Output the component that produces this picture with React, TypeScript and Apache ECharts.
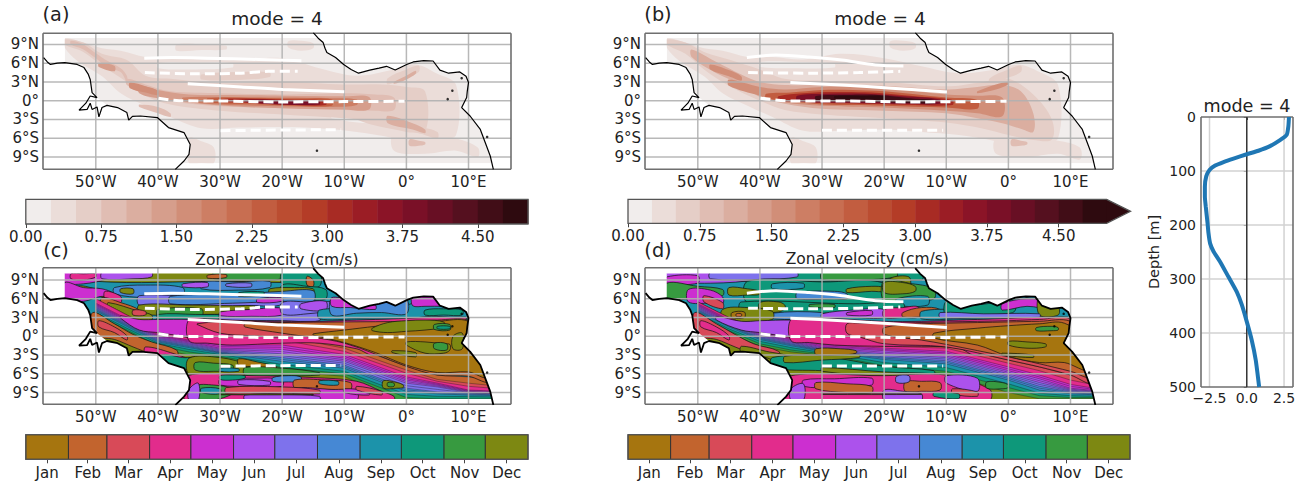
import React, { useEffect, useRef } from "react";
import * as echarts from "echarts";

const FONT = "DejaVu Sans";
const lonTicks = [-50, -40, -30, -20, -10, 0, 10];
const latTicks = [-9, -6, -3, 0, 3, 6, 9];
const ampTicks = [0, 0.75, 1.5, 2.25, 3, 3.75, 4.5];
const ampLevels = ["#f1edec","#ebddd9","#e5cec7","#e0bdb3","#dbaea0","#d69e8c","#d18e78","#cd7e64","#c86e51","#c25d40","#bb4d31","#b43c27","#a82b24","#9b1d25","#8b1427","#7a1027","#680f24","#55101f","#410d17","#2e0a0f"];
const months = ["Jan","Feb","Mar","Apr","May","Jun","Jul","Aug","Sep","Oct","Nov","Dec"];
const monthDays = [31,28,31,30,31,30,31,31,30,31,30,31];
const monthColors = ["#a6750f","#c2642e","#d84a58","#e22c8c","#cc2fd0","#ac52ec","#7e72ec","#4688d4","#1c93aa","#0e987a","#379a40","#7d8812"];

const coastAmerica = [[-58.4,6.9],[-57.8,6.2],[-57.3,5.8],[-56.2,6],[-55,6.1],[-53,5.8],[-51.9,5.3],[-51.2,4.2],[-50.9,3.4],[-50.6,1.3],[-49.8,0.5],[-50.9,0.75],[-51.6,-0.4],[-52.7,-1.5],[-51.4,-1.4],[-50.9,-0.4],[-50.6,-1.4],[-49.8,-1],[-49.5,-2.6],[-49,-1.1],[-48.2,-0.75],[-46.5,-1.1],[-45,-1.9],[-44.7,-3.1],[-44.1,-2.5],[-42.8,-2.45],[-40.1,-2.7],[-38.3,-4.3],[-35.8,-5.1],[-34.8,-7],[-35,-8.6],[-35.8,-9.65],[-37.2,-11]];
const coastAfrica = [[-15,10.9],[-14.2,10],[-13.4,9.3],[-13.1,8.4],[-12.8,7.7],[-11.4,6.9],[-10.1,5.8],[-8.9,5],[-7.7,4.4],[-5.9,4.9],[-4.4,5.2],[-3.2,5.5],[-1.8,4.9],[0.05,5.8],[1.1,6.2],[2.8,6.4],[4.3,6.35],[5.4,4.9],[6.8,4.4],[8.6,4.6],[9.6,3.9],[10,2.9],[9.8,1.5],[9.7,0.5],[8.9,-1.1],[10.25,-2.45],[11.9,-4.6],[12.9,-7.25],[13.5,-8.85],[14,-11]];
const islands = [[6.65,0.25],[7.4,1.6],[8.9,3.6],[-14.4,-8],[13,-5.8]];
const landAmericaExtra = [[-62,-12],[-62,6.9]];
const landAfricaExtra = [[20,-12],[20,12]];
const amazonMouth = [[-54,1.2],[-49.8,0.5],[-48.2,-0.75],[-49.3,-3.2],[-54,-3.2]];
const stripNorth = [[-62,10.05],[20,10.05],[20,12],[-62,12]];
const stripSouth = [[-62,-10.02],[20,-10.02],[20,-12],[-62,-12]];
const stripWest = [[-62,-12],[-55,-12],[-55,12],[-62,12]];
const domainBox = [[-55,-10],[14,-10],[14,10.05],[-55,10.05]];

// white lines: longitude, latitude
const solidNorthA = [[-42.2,6.8],[-37.7,6.9],[-32.1,6.8],[-23.8,6.6],[-16.9,6.4]];
const dashNorthA = [[-42.1,4.5],[-34.3,4.3],[-26.6,4.4],[-22.2,4.7],[-17.5,4.7]];
const solidMidA = [[-35.2,2.7],[-26.6,2.2],[-19.9,1.8],[-10,1.45]];
const dashEqA = [[-39.9,0.4],[-36.6,0],[-29.9,-0.05],[-21,-0.2],[-10,-0.15],[-0.3,-0.1]];
const dashSouthA = [[-29.9,-4.8],[-21,-4.7],[-10.5,-4.65]];
const solidNorthB = [[-42.1,6.9],[-37.4,7.3],[-32.1,7],[-26.8,6.5],[-21.4,5.7],[-16.9,5.55]];
const dashNorthB = [[-41.9,4.5],[-32.1,4.4],[-24.1,4.5],[-17.4,4.7]];
const solidMidB = [[-35.1,2.9],[-26.8,2.5],[-18.8,2],[-9.9,1.4]];
const dashEqB = [[-39.9,0.4],[-34.9,-0.05],[-26.8,-0.05],[-16.1,-0.2],[-0.3,-0.1]];
const dashSouthB = [[-30,-4.75],[-10.5,-4.75]];

// [level, [lon, south lat, north lat] ...]
const ampA: any[] = [
 [1,[-55,8.5,9.9],[-53,6.4,9.6],[-49,3.9,8.4],[-46,1.2,8],[-42,-0.8,7],[-38,-2.6,7],[-33,-4.4,6.6],[-27,-4.3,6.5],[-20,-4.2,6.8],[-14,-4.4,5.2],[-8,-5,4],[-2,-6,5],[1.5,-7,5.8],[5,-6,4.3],[8,-5.5,2.5]],
 [1,[-35,-10,-6],[-33,-10,-6.5],[-31,-10,-7.5]],
 [1,[-2,-8,-5],[3,-8.5,-5],[8,-8,-6],[11.5,-9,-7.5]],
 [1,[-37,8,9],[-33,8.1,9],[-29,8.2,8.8]],
 [1,[-19,8.5,9.5],[-17,8,9.6],[-15,8.4,9.2]],
 [0,[-40,5.2,6],[-34,5,6.1],[-28,5.3,6]],
 [0,[-12,-2.8,-2.2],[-6,-3.6,-2.9]],
 [2,[-55,9,9.8],[-52,7.8,9.3],[-49,5.6,7.5],[-45,3,6.5],[-42,0.8,4],[-38,-0.6,3.5],[-30,-1.6,2.8],[-20,-2.2,3],[-10,-2.8,2.6],[-4,-3.4,2.6],[0,-4.6,2.2],[3,-5,1.5]],
 [2,[-3,2.6,3.6],[0,3.7,5],[2,4.6,5.6]],
 [2,[-8,-3,-1.5],[0,-5,-2.5],[2,-5.2,-4],[5,-6,-5]],
 [2,[-33,3.4,4.2],[-27,3.3,4.6],[-22,3.8,4.5]],
 [3,[-54,9,9.6],[-52,8.2,9],[-50,6.8,7.6],[-48,5.2,6.3],[-46,4.6,5.2],[-45,3,4]],
 [3,[-45,2.5,3.5],[-42,1,2.6],[-38,-0.1,1.5],[-30,-0.9,1.2],[-20,-1.2,1],[-10,-1.5,1.2],[-5,-1.6,1],[-2,-1.5,0.5]],
 [3,[-43,-1,-0.6],[-40,-2,-1],[-38,-2.6,-2]],
 [3,[0.5,-7.2,-6.2],[2,-7.2,-6.4],[3,-7,-6.6]],
 [4,[-3,-3.6,-2.4],[1,-4.6,-3.6],[3,-5.2,-4.6]],
 [4,[-2,2.7,3],[0,3.4,4],[1.5,4.3,4.8]],
 [5,[-49.5,5.4,6],[-47,4.7,5.6]],
 [5,[-43,1.2,2.4],[-40,0.4,1.7],[-35,-0.3,1],[-28,-0.9,0.9],[-20,-1.2,0.8],[-10,-1.4,0.7],[-6,-1.4,0.6]],
 [6,[-44.5,2,2.9],[-42,1.3,2.3],[-40,0.9,1.6]],
 [7,[-36,0,0.5],[-30,-0.6,0.6],[-20,-0.9,0.5],[-12,-1,0.4],[-8,-0.7,0.2]],
 [9,[-32,-0.3,0.4],[-25,-0.5,0.45],[-18,-0.8,0.35],[-12,-0.8,0.2]],
 [12,[-30,-0.15,0.25],[-24,-0.4,0.3],[-18,-0.7,0.15],[-13,-0.7,0]],
 [15,[-26,-0.2,0.15],[-20,-0.6,0.1],[-14,-0.6,-0.1]],
];
const ampB: any[] = [
 [1,[-55,8.5,9.9],[-53,6.4,9.6],[-49,3.9,8.4],[-46,1.2,8],[-42,-0.8,7],[-38,-2.6,7],[-33,-4.8,6.6],[-27,-4.8,7.5],[-20,-4.6,6.8],[-14,-5,5.5],[-8,-5.5,4.4],[-2,-6.5,5],[1.5,-7.5,5.8],[5,-7,4.6],[8,-6,2.5]],
 [1,[-35,-10,-6],[-33,-10,-6.5],[-31,-10,-7.5]],
 [1,[-2,-8.5,-6],[3,-9,-6],[8,-8.5,-6.4],[11.5,-9.4,-7.5]],
 [1,[-19,8.5,9.5],[-17,8,9.6],[-15,8.4,9.2]],
 [0,[-40,5.4,6.2],[-34,5.2,6.2],[-28,5.3,5.9]],
 [2,[-55,9,9.8],[-52,7.5,9.3],[-49,5,7.8],[-45,2.4,6.6],[-40,0,5],[-36,-1.5,3.5],[-30,-2.2,3.2],[-20,-2.8,3],[-10,-3.5,2.3],[-4,-4.5,3],[0,-5.5,3.5],[4,-6.3,1],[7,-6.2,-3]],
 [2,[-3,2.6,3.6],[0,3.7,5],[2,4.6,5.6]],
 [4,[-51,7,8.2],[-47,4.4,6.2],[-43,2.6,4.2],[-40,0.6,3],[-36,-0.5,2.5],[-30,-1.3,2.6],[-20,-1.6,2.4],[-10,-2,1.8],[-5,-2.8,2.2],[-1,-3.6,2.5],[2,-4.5,1.5],[4,-5,-2]],
 [3,[0.5,-7.2,-6.2],[2,-7.2,-6.4],[3,-7,-6.6]],
 [6,[-48,5,5.8],[-45,3.9,4.9],[-43,3.2,3.9]],
 [6,[-45,2.4,3.4],[-40,0.8,2.2],[-36,-0.3,1.8],[-30,-0.8,2.2],[-20,-1.1,2],[-10,-1.6,1],[-5,-2,0.8],[-1,-2.5,0.5]],
 [6,[-5,1.2,1.5],[-2,1.8,2.6],[0,2.6,3]],
 [9,[-39,0.4,1.1],[-35,-0.1,1.3],[-30,-0.6,1.7],[-25,-0.7,1.7],[-20,-0.8,1.5],[-10,-1.1,0.5],[-5,-1.3,0.1]],
 [12,[-37,0,0.7],[-33,-0.2,1.2],[-28,-0.4,1.4],[-22,-0.5,1.3],[-15,-0.7,0.7],[-9,-0.7,0.1]],
 [15,[-34,0,0.8],[-29,-0.3,1.1],[-23,-0.4,1.1],[-17,-0.5,0.7],[-11,-0.5,0.2]],
 [18,[-31,0.1,0.75],[-26,-0.15,0.9],[-21,-0.2,0.9],[-15,-0.4,0.3],[-12,-0.4,0.1]],
 [19,[-28,0.35,0.7],[-24,0.3,0.75],[-20,0.2,0.7]],
];

const stripeLons = [-50,-45,-40,-35,-30,-20,-10,0,5,10,15];
// [month, north edge latitude at each of stripeLons]
const stripesC: any[] = [
 [1,[6,3.4,0.9,-0.3,-0.5,0.5,-1.1,-4.8,-6.2,-6.5,-7]],
 [2,[6,3.4,0.9,-0.3,-0.5,0,-1.9,-5.4,-6.9,-7.5,-8]],
 [3,[6,3.4,0.9,-0.3,-0.5,-0.6,-2.4,-5.9,-7.2,-8,-8.4]],
 [4,[5.3,2.8,0.3,-0.6,-1.4,-1.4,-2.9,-6.5,-7.5,-8.6,-8.8]],
 [4,[5.15,2.65,0.15,-0.75,-1.65,-1.75,-3.2,-6.75,-7.65,-8.7,-8.9]],
 [5,[5,2.5,0,-0.9,-1.9,-2.1,-3.5,-7,-7.8,-8.8,-9]],
 [5,[4.85,2.35,-0.15,-1.05,-2.05,-2.45,-3.75,-7.25,-7.95,-8.9,-9.1]],
 [6,[4.7,2.2,-0.3,-1.2,-2.2,-2.8,-4,-7.5,-8.1,-9,-9.2]],
 [6,[4.55,2.05,-0.45,-1.35,-2.35,-3.1,-4.3,-7.9,-8.5,-9.05,-9.25]],
 [7,[4.4,1.9,-0.6,-1.5,-2.5,-3.4,-4.6,-8.3,-8.9,-9.1,-9.3]],
 [7,[4.25,1.75,-0.75,-1.65,-2.6,-3.7,-4.85,-8.55,-9.05,-9.25,-9.4]],
 [8,[4.1,1.6,-0.9,-1.8,-2.7,-4,-5.1,-8.8,-9.2,-9.4,-9.5]],
 [9,[3.8,1.3,-1.1,-2.1,-2.9,-4.5,-5.6,-9.3,-9.6,-9.65,-9.7]],
 [10,[3.5,1,-1.5,-2.5,-3.2,-5,-6,-9.8,-10,-10,-10]],
 [11,[3,0.6,-2,-3,-3.6,-5.6,-6.4,-11,-11,-11,-11]],
];
const stripesD: any[] = [
 [1,[5.5,3,1,0,-0.5,-0.9,-1,-3.3,-4.4,-5.6,-6.5]],
 [2,[5.5,3,1,0,-0.5,-1.2,-1.5,-3.8,-4.9,-6.2,-7.4]],
 [3,[5.5,3,1,0,-0.5,-1.6,-1.9,-4.3,-5.5,-7,-8]],
 [4,[5.2,2.7,0.7,-0.3,-1.3,-1.9,-2.4,-4.9,-6.2,-7.7,-8.5]],
 [4,[5.05,2.55,0.55,-0.45,-1.5,-2.1,-2.65,-5.2,-6.5,-8,-8.65]],
 [5,[4.9,2.4,0.4,-0.6,-1.7,-2.3,-2.9,-5.5,-6.8,-8.3,-8.8]],
 [5,[4.75,2.25,0.25,-0.75,-1.85,-2.55,-3.15,-5.75,-7.1,-8.45,-8.9]],
 [6,[4.6,2.1,0.1,-0.9,-2,-2.8,-3.4,-6,-7.4,-8.6,-9]],
 [6,[4.45,1.95,-0.05,-1.05,-2.1,-3.05,-3.65,-6.25,-7.7,-8.75,-9.1]],
 [7,[4.3,1.8,-0.2,-1.2,-2.2,-3.3,-3.9,-6.5,-8,-8.9,-9.2]],
 [7,[4.15,1.65,-0.35,-1.35,-2.3,-3.5,-4.15,-6.75,-8.3,-9.05,-9.3]],
 [8,[4,1.5,-0.5,-1.5,-2.4,-3.7,-4.4,-7,-8.6,-9.2,-9.4]],
 [9,[3.7,1.2,-0.8,-1.8,-2.6,-4.2,-5,-7.6,-9.1,-9.5,-9.6]],
 [10,[3.4,0.9,-1.2,-2.2,-2.8,-4.7,-5.6,-8.2,-9.5,-9.8,-9.8]],
 [11,[3,0.5,-1.6,-2.5,-3,-5.2,-6,-9,-10,-10,-10]],
];

// [month, [lon, south lat, north lat] ...], painted in order, before the stripes
const phaseNorthC: any[] = [
 [8,[-56,-10.5,10.2],[15,-10.5,10.2]],
 [11,[-50,8.8,10.2],[-30,8.8,10.2],[-14,8.8,10.2]],
 [10,[-31,9.2,10.2],[-25,9,10.2],[-20,9.2,10.2]],
 [4,[-55,8.6,10.2],[-52,8.4,10.2],[-48,9.3,10.2]],
 [3,[-54,9.2,10],[-52,9,10],[-50,9.5,10]],
 [5,[-49,9.2,10.2],[-44,9.2,10.2],[-41,9.5,10.2]],
 [9,[-20,8.4,10.2],[-17,8,10.2],[-14,8,10.2]],
 [1,[-16,8.2,9.6],[-15,8,9]],
 [1,[-32,9.3,9.8],[-29,9.4,9.9]],
 [7,[-47,6.8,7.8],[-42,6.2,8.2],[-36,6.5,7.8]],
 [7,[-33,7.6,8.7],[-27,7.4,8.7],[-22,7.8,8.8]],
 [5,[-36,7.9,8.4],[-32,7.9,8.6]],
 [6,[-29,8,8.4],[-25,7.9,8.5]],
 [11,[-53,6.2,8],[-50,6.4,7.6],[-47,6,6.8]],
 [11,[-46,7,7.6],[-44,6.8,7.6]],
 [9,[-20,5.8,8.2],[-16,5.8,8],[-13,6,7.5]],
 [11,[-22,6.8,7.6],[-18,6.6,7.8],[-15,6.8,7.6]],
 [6,[-43,5,6.5],[-33,4.7,6.3],[-25,4.9,6.4],[-20,5.1,6.9]],
 [7,[-38,5.2,6.4],[-28,5.3,6.7],[-20,5.6,7.2],[-15,5.6,7.3]],
 [4,[-24,5.4,6],[-20,5.6,6.2]],
 [9,[-27,6.4,7],[-23,6.6,7.1]],
 [11,[-43,3.6,5],[-35,3.5,5],[-28,3.6,4.9],[-24,4,4.8]],
 [10,[-40,3.2,4.3],[-33,3.2,4.4]],
 [9,[-40,2.6,3.5],[-34,2.4,3.5],[-28,2.6,3.3]],
 [6,[-30,2.6,3.5],[-25,2.5,4.3],[-20,2.5,4.5],[-14,2.5,4.1]],
 [4,[-30,3.3,3.9],[-25,3.2,4.3],[-20,3.4,4.5]],
 [6,[-20,3.6,5.4],[-16,3.6,5.5],[-11,4.4,5.4]],
 [5,[-17,4.4,5.2],[-13,4.2,5.6]],
 [8,[-14,2.8,4.2],[-8,2.8,4.4],[0,2.8,5],[4,3.2,6.4],[11,3,4.8]],
 [7,[-12,3.4,6],[-8,3.7,5.4],[-4,3.8,5.4],[0,3.6,5.9]],
 [4,[-12,4.8,6.2],[-9,4.6,5.8],[-5,4.3,5]],
 [4,[1,4.9,6.4],[3,4.8,6.4],[6,4.8,6.4],[9,4.5,4.8]],
 [9,[3,3.4,4.2],[6,3.4,4.4],[9,3.4,4.2]],
 [4,[-55,6,8.6],[-52,5.6,7.8],[-49,6.4,7.6],[-47,6,6.8]],
 [3,[-48.5,6,7.2],[-46,5.4,6.4]],
 [1,[-49,4.8,6.2],[-46,3.6,5.4],[-43,3.2,4.2]],
 [11,[-48,4.6,5.4],[-43,2.4,4],[-41,2.6,3.4]],
 [2,[-44,3.4,4.2],[-42,3.4,4]],
];
// painted after the stripes
const phaseSouthC: any[] = [
 [1,[-50.5,0.2,3.8],[-47,-0.5,2],[-44,-1.7,0.3],[-41,-2.8,-0.9],[-37,-3.5,-2.2]],
 [2,[-49.5,1.5,2.5],[-47,0.6,1.5],[-45,-0.6,0.1]],
 [3,[-42,-2.8,-1.7],[-38,-3.6,-2.6],[-34,-5.3,-4.2]],
 [9,[-39.5,-5,-3],[-36,-5.2,-3.4],[-33,-5.6,-3.6]],
 [11,[-35,-6,-3.5],[-30,-6,-3.4],[-25,-6,-4.5],[-21,-6,-5.2]],
 [10,[-34,-5.4,-4.2],[-31,-5.6,-4.3],[-28,-5.4,-4.6]],
 [0,[-27,-4.6,-3.6],[-24,-4.9,-4.1],[-21,-5.2,-4.8]],
 [10,[-26,-6.2,-5],[-20,-6.3,-5.1],[-14,-6.2,-5.8]],
 [8,[-30,-5.6,-5.1],[-27,-5.6,-5.2]],
 [3,[-35.5,-10.2,-6.4],[-25,-10.2,-6.3],[-15,-10.2,-6.6],[-8,-10.2,-7.2],[-4,-10.2,-8.8],[-2,-10.2,-9.6]],
 [4,[-30,-7.8,-6.9],[-25,-8,-6.7],[-20,-8,-6.9]],
 [5,[-27,-7.7,-7],[-22,-7.8,-7.2]],
 [7,[-21.5,-7.2,-6.6],[-19,-7.3,-6.3],[-17,-7.2,-6.5]],
 [9,[-30,-6.9,-6.3],[-28,-7,-6.2],[-26,-6.7,-6.3]],
 [10,[-34,-10.2,-8],[-31,-10.2,-7.8],[-28,-9.2,-8.4]],
 [8,[-33,-9,-8.3],[-30,-9.2,-8.4]],
 [1,[-18,-8.2,-7],[-13,-8.5,-7],[-9,-8.5,-7.4]],
 [8,[-14,-7.6,-7.1],[-11,-7.8,-7.2]],
 [4,[-18,-9.5,-8.3],[-12,-10.2,-8.5],[-8,-10.2,-8.7]],
 [4,[-10,-9,-8.4],[-6,-9.4,-8.8]],
 [2,[-8,-8.6,-8],[-4,-9.4,-8.8]],
 [11,[-3.7,-8.3,-7.1],[-1.5,-8.3,-7.4],[-0.5,-8.2,-7.8]],
 [10,[-3,-8,-7.4],[-2,-8,-7.5]],
 [2,[-29,-9.2,-8.2],[-20,-9.1,-8.1],[-14,-9.2,-8.6]],
 [5,[-35,-10.2,-8.5],[-33.5,-10.2,-7.5]],
 [5,[-26,-10.2,-9.4],[-20,-10.2,-9.3],[-14,-10.2,-9.6]],
 [11,[-30,-9.35,-9.25],[-15,-9.35,-9.25]],
 [4,[-46,2.9,3.3],[-43,1,2.7],[-40,0.6,2.7],[-35,-0.1,2.7],[-32,-0.2,2.5]],
 [3,[-35,-0.7,2.7],[-32,-1.1,2.8],[-28,-1.4,2.6],[-20,-1.1,2.4],[-14,-1.1,2.4],[-8,-2,2.6],[-5,-3,2.7],[9.5,2.6,3.1]],
 [2,[-33.7,1.9,2],[-30,0.5,2.4],[-25,0.1,2.4],[-20,-0.1,2.2],[-15,0.4,2],[-12,1.2,2]],
 [1,[-26,1.5,2],[-20,0.5,2.2],[-10,-1.1,2.3],[0,-4.8,2.4],[5,-6.2,2.6],[10,-6.4,2.6],[13.5,-7.2,0]],
 [0,[-15,0.2,0.4],[-10,-1,1],[-5,-2.6,1.6],[0,-4.6,2.1],[5,-5.8,2.4],[10,-5.7,2.4],[13,-6.5,-1]],
 [11,[-5.5,0.9,1.3],[-3,0.6,2.2],[0,0.8,2.5],[3,1,2.6],[6,1.5,2.3]],
 [11,[0,-1.4,-0.9],[3,-2.7,-0.9],[6,-2.7,-1.2],[7,-2.2,-1.3]],
 [10,[4.5,1.1,1.9],[7,1,1.9]],
 [10,[4.5,-2,-1.1],[6.5,-2.2,-1.2]],
 [11,[-2.3,-2.6,-2.3],[1.5,-3.3,-2.6]],
 [11,[7.5,-2,0],[9,-2,0.5]],
 [9,[5,1.2,1.6],[7,1.2,1.6]],
];
const phaseNorthD: any[] = [
 [8,[-56,-10.5,10.2],[15,-10.5,10.2]],
 [9,[-50,9,10.2],[-14,9,10.2]],
 [5,[-55,9,10.2],[-48,8.5,10.2],[-40,9.2,10.2]],
 [6,[-48,9.2,10.2],[-40,9.1,10.2],[-34,9.5,10.2]],
 [4,[-55,8.5,9.5],[-50,8.5,9.7]],
 [10,[-30,9.1,10.2],[-24,9,10.2],[-18,9.5,10.2]],
 [11,[-19,8,9.3],[-16,7.8,9.5]],
 [9,[-42,5.4,8.8],[-30,5.2,8.7],[-20,5.2,8.5]],
 [7,[-34,6,7],[-28,6,7.2],[-26,6,6.8]],
 [8,[-38,7.6,8.4],[-33,7.7,8.5]],
 [11,[-45,6.6,7.8],[-42,6.6,7.6],[-40,6.7,7.2]],
 [11,[-26,7,7.6],[-22,7.2,8],[-20,7.2,7.8]],
 [10,[-20,5.6,9],[-16,5.6,8.5],[-12,6,7.6]],
 [11,[-20,7,8.6],[-17,6.8,8.6],[-15,7.2,8]],
 [8,[-18,5,6],[-13,5,6.4]],
 [9,[-43,3.8,5.5],[-25,3.8,5.2],[-17,4,5.3]],
 [11,[-40,4,5.4],[-37,3.9,5.5],[-36,4.4,5]],
 [10,[-32,4.7,5.1],[-28,4.6,5.1]],
 [7,[-38,2.8,3.7],[-30,3,3.8]],
 [5,[-30,2.9,3.6],[-25,3,4.2],[-20,3,4.3]],
 [4,[-26,3.4,3.8],[-22,3.4,4.1]],
 [3,[-20,3,4.3],[-17,3,4.6],[-14.5,3.1,4.7]],
 [1,[-17,3.1,3.8],[-14,3.1,4.6],[-11,3,4.3]],
 [8,[-14,2.8,4],[-8,2.8,4.4],[0,2.8,5],[4,3.2,6.4],[11,3,4.8]],
 [9,[-10,3.2,5.6],[-6,3.4,5],[-1,3.6,5.6],[1,4,6]],
 [4,[-1,4.2,5.2],[3,4.8,6],[7,4.4,5.4]],
 [11,[5,3.4,6.4],[8,3.4,4.8]],
 [6,[-11,3,3.8],[-4,3,3.6],[5,3,3.6]],
 [10,[-55,6,8.5],[-50,6.2,8],[-46,6.5,7.5]],
 [4,[-51.5,5.5,7.5],[-48,5.3,7.4],[-46,5.2,6.3]],
 [2,[-49,5.5,6.5],[-46,4.4,5.4]],
 [11,[-46,2.2,4.3],[-42,2.3,4.6],[-38,2.7,4]],
 [0,[-44.5,3,3.8],[-42.5,3,3.9]],
 [1,[-43.8,3.2,3.6],[-43,3.2,3.6]],
];
const phaseSouthD: any[] = [
 [2,[-50.5,0.2,3.8],[-47,-0.5,2],[-44,-1.7,0.3],[-41,-2.8,-1.2],[-37,-3.5,-2.4]],
 [3,[-49.5,1.5,2.5],[-47,0.6,1.5],[-45,-0.6,0.1]],
 [11,[-43,-2.6,-1.6],[-39,-3.4,-2.4],[-35,-5,-3.4]],
 [9,[-38,-5,-3.4],[-30,-5.5,-3.2],[-20,-6,-4.8],[-12,-6.2,-5.5]],
 [11,[-36,-4.2,-3.2],[-30,-3.8,-3],[-24,-3.4,-2.9]],
 [11,[-30,-5.6,-5],[-20,-6.4,-5.7],[-12,-6.4,-6]],
 [0,[-31,-2.9,-2],[-27,-3,-2],[-24.5,-2.7,-2.3]],
 [3,[-36,-10.2,-6.5],[-20,-10.2,-6.3],[-10,-10.2,-6.2],[-3,-10.2,-8.5]],
 [5,[-10,-7.5,-6.3],[-5,-8.8,-6.7]],
 [4,[-33,-8,-7],[-28,-8.2,-6.8],[-22,-7.8,-6.7]],
 [1,[-16.6,-8.8,-7.3],[-14,-8.8,-7.2],[-11,-8.6,-7.4]],
 [6,[-18,-7.4,-6.4],[-16,-7.3,-6.3]],
 [5,[-20,-10.2,-8.6],[-17,-10.2,-8.8],[-14,-10.2,-9.2]],
 [1,[-31,-8.4,-7.4],[-26,-9,-7.6],[-22,-9,-8]],
 [2,[-9,-9.2,-8.4],[-5,-9.6,-8.9]],
 [10,[-3.5,-8.3,-7.3],[-1,-8.4,-7.4],[0,-8.2,-7.8]],
 [11,[-30,-9.3,-9.2],[-14,-9.3,-9.2]],
 [5,[-35,-10.2,-8.4],[-33,-10.2,-7.6]],
 [9,[-12,-9.6,-9],[-8,-10,-9.2]],
 [5,[-47,2.6,3.2],[-43,1,2.4],[-40,0.6,2.5],[-35,-0.1,2.6],[-32,-0.2,2.4]],
 [3,[-35,-0.7,2.7],[-32,-1,2.8],[-28,-1.4,2.8],[-20,-1.6,2.4],[-14,-1.6,2.4],[-8,-1.9,2.6],[-5,-3,2.7],[9.5,2.6,3.1]],
 [2,[-26,0.5,2],[-24,-0.1,2.1],[-20,-1.2,2.1],[-10,-1.7,2.3],[0,-3.8,2.5],[5,-4.9,2.7],[10,-6.2,2.8],[13.5,-7.4,-1]],
 [1,[-20,0.3,1.4],[-14,-0.6,2],[-10,-1.3,2.1],[0,-3.3,2.3],[5,-4.4,2.4],[10,-5.6,2.4],[13.5,-6.5,-1]],
 [0,[-12,-0.3,0.5],[-5,-1.4,1.3],[0,-3.2,1.7],[5,-4.2,2],[9,-4.2,2.1],[13,-5.4,-1]],
 [11,[0,-1.4,-0.8],[3,-1.9,-0.9],[6,-1.7,-1.2]],
 [10,[4.5,0.9,1.4],[7,0.9,1.6],[8,1,1.4]],
 [11,[-1,-3,-2.7],[4,-3.4,-3]],
];

const profileDepth = [0,17,33,43,54,62.5,69,77,83.5,90,98,110,129,147,166,197,215,234,249,268,296,324,348,379,413,450,500];
const profileValue = [2.83,2.79,2.68,2.23,1.56,0.78,0,-0.89,-1.56,-2.12,-2.5,-2.72,-2.81,-2.81,-2.75,-2.63,-2.57,-2.46,-2.23,-1.79,-1.23,-0.67,-0.33,0,0.33,0.6,0.83];

const ribbon = (rows: number[][]) => [
  ...rows.map((r) => [r[0], r[2]]),
  ...rows.slice().reverse().map((r) => [r[0], r[1]]),
];
const landShapes = () => [
  { pts: [...coastAmerica, ...landAmericaExtra], c: "#fff" },
  { pts: amazonMouth, c: "#fff" },
  { pts: [...coastAfrica, ...landAfricaExtra], c: "#fff" },
  { pts: stripNorth, c: "#fff" }, { pts: stripSouth, c: "#fff" }, { pts: stripWest, c: "#fff" },
];
const polyRender = (shapes: any[]) => (_: any, api: any) => {
  const s = shapes[api.value(0)];
  return {
    type: "polygon",
    shape: { points: s.pts.map((q: number[]) => api.coord(q)), smooth: s.smooth || 0 },
    style: { fill: s.c, stroke: s.stroke || "none", lineWidth: s.lw || 0 },
  };
};
const polySeries = (i: number, shapes: any[]) => ({
  type: "custom", xAxisIndex: i, yAxisIndex: i, coordinateSystem: "cartesian2d", clip: true, silent: true,
  renderItem: polyRender(shapes), data: shapes.map((_, k) => [k]), animation: false,
  encode: { x: -1, y: -1 }, dimensions: ["idx"],
});
const GRID_COL = "rgba(176,176,176,0.9)";
const linesSeries = (i: number, xt: number[], yt: number[], ext: number[], col = GRID_COL, frame = "#6f6f6f") => {
  const segs: any[] = [
    ...xt.map((v) => [[v, ext[2]], [v, ext[3]], col, 1.5]),
    ...yt.map((v) => [[ext[0], v], [ext[1], v], col, 1.5]),
    [[ext[0], ext[2]], [ext[0], ext[3]], frame, 1.6],
    [[ext[1], ext[2]], [ext[1], ext[3]], frame, 1.6],
    [[ext[0], ext[2]], [ext[1], ext[2]], frame, 1.6],
    [[ext[0], ext[3]], [ext[1], ext[3]], frame, 1.6],
  ];
  return {
    type: "custom", xAxisIndex: i, yAxisIndex: i, coordinateSystem: "cartesian2d", clip: false, silent: true,
    data: segs.map((_, k) => [k]), encode: { x: -1, y: -1 },
    renderItem: (_: any, api: any) => {
      const s = segs[api.value(0)];
      const a = api.coord(s[0]), b = api.coord(s[1]);
      return { type: "line", shape: { x1: a[0], y1: a[1], x2: b[0], y2: b[1] }, style: { stroke: s[2], lineWidth: s[3] } };
    },
  };
};
const whiteLine = (i: number, data: number[][], dashed: boolean) => ({
  type: "line", xAxisIndex: i, yAxisIndex: i, data, showSymbol: false, silent: true, smooth: 0.3,
  lineStyle: { color: "#fff", width: 3, type: dashed ? [10, 5] : "solid" },
});
const coastLine = (i: number, data: number[][], w: number) => ({
  type: "line", xAxisIndex: i, yAxisIndex: i, data, showSymbol: false, silent: true,
  lineStyle: { color: "#000", width: w },
});

const mapPanel = (i: number, fill: any[], ext: number[], lines: any[], coastW: number) => [
  polySeries(i, [...fill, ...landShapes()]),
  linesSeries(i, lonTicks, latTicks, ext),
  ...lines.map((l) => whiteLine(i, l[0], l[1])),
  coastLine(i, coastAmerica, coastW),
  coastLine(i, coastAfrica, coastW),
  { type: "scatter", xAxisIndex: i, yAxisIndex: i, data: islands, symbolSize: 2.5, silent: true, itemStyle: { color: "#000" } },
];

const ampShapes = (t: any[]) => [
  { pts: domainBox, c: ampLevels[0] },
  ...t.map((r) => ({ pts: ribbon(r.slice(1)), c: ampLevels[r[0]], smooth: 0.35 })),
];
const phaseShapes = (north: any[], stripes: any[], south: any[]) => {
  const rib = (r: any) => ({ pts: ribbon(r.slice(1)), c: monthColors[r[0]], smooth: 0.35, stroke: "#111", lw: 0.7 });
  const st = stripes.map((r) => ({
    pts: [...stripeLons.map((lo, k) => [lo, r[1][k]]), [15, -12], [-50, -12]],
    c: monthColors[r[0]], stroke: "#111", lw: 0.35,
  }));
  return [...north.map(rib), ...st, ...south.map(rib)];
};

const latLabel = (v: number) => (v === 0 ? "0°" : `${Math.abs(v)}°${v > 0 ? "N" : "S"}`);
const lonLabel = (v: number) => (v === 0 ? "0°" : v < 0 ? `${-v}°W` : `${v}°E`);
const labelStyle = { fontFamily: FONT, fontSize: 15, color: "#222" };

const barRects = (i: number, edges: number[], colors: string[], sep: string | null) => {
  const items = colors.map((c, k) => [edges[k], edges[k + 1], c]);
  return {
    type: "custom", xAxisIndex: i, yAxisIndex: i, coordinateSystem: "cartesian2d", clip: false, silent: true,
    data: items.map((_, k) => [k]), encode: { x: -1, y: -1 },
    renderItem: (_: any, api: any) => {
      const it = items[api.value(0)] as any[];
      const a = api.coord([it[0], 1]), b = api.coord([it[1], 0]);
      return { type: "rect", shape: { x: a[0], y: a[1], width: b[0] - a[0] + (sep ? 0 : 0.5), height: b[1] - a[1] },
        style: { fill: it[2], stroke: sep || "none", lineWidth: sep ? 1 : 0 } };
    },
  };
};
const barFrame = (i: number, pts: number[][]) => ({
  type: "custom", xAxisIndex: i, yAxisIndex: i, coordinateSystem: "cartesian2d", clip: false, silent: true,
  data: [[0]], encode: { x: -1, y: -1 },
  renderItem: (_: any, api: any) => ({
    type: "polygon", shape: { points: pts.map((q) => api.coord(q)) },
    style: { fill: "none", stroke: "#555", lineWidth: 1.3 },
  }),
});

export default function App() {
  const ref = useRef<HTMLDivElement>(null);
  useEffect(() => {
    const chart = echarts.init(ref.current!, null, { renderer: "svg" });
    const extAB = [-58.5, 16.84, -10.98, 10.8];
    const extCD = [-58.5, 16.84, -10.88, 10.98];
    const grids = [
      { left: 43, top: 33.2, width: 468, height: 136.1 },
      { left: 645, top: 33.2, width: 468, height: 136.1 },
      { left: 43, top: 267.7, width: 468, height: 136.6 },
      { left: 645, top: 267.7, width: 468, height: 136.6 },
      { left: 1201, top: 117, width: 92, height: 270 },
      { left: 25.8, top: 199.3, width: 502.2, height: 24.7 },
      { left: 628, top: 199.3, width: 478.6, height: 24 },
      { left: 25.8, top: 434.7, width: 502.2, height: 24.6 },
      { left: 628, top: 434.7, width: 502, height: 24.6 },
    ];
    const mapX = (g: number) => ({
      type: "value", gridIndex: g, min: extAB[0], max: extAB[1],
      axisLine: { show: false }, axisTick: { show: false, customValues: lonTicks }, splitLine: { show: false },
      axisLabel: { ...labelStyle, margin: 5, customValues: lonTicks, formatter: lonLabel, hideOverlap: false },
    });
    const mapY = (g: number, e: number[]) => ({
      type: "value", gridIndex: g, min: e[2], max: e[3],
      axisLine: { show: false }, axisTick: { show: false, customValues: latTicks }, splitLine: { show: false },
      axisLabel: { ...labelStyle, margin: 4, customValues: latTicks, formatter: latLabel, hideOverlap: false },
    });
    const cbAxis = (g: number, name: string) => ({
      type: "value", gridIndex: g, min: 0, max: 5,
      name, nameLocation: "middle", nameGap: 28, nameTextStyle: { fontFamily: FONT, fontSize: 15.5, color: "#222" },
      axisLine: { show: false }, splitLine: { show: false },
      axisTick: { show: true, length: 4, lineStyle: { color: "#444" }, customValues: ampTicks },
      axisLabel: { ...labelStyle, margin: 5, customValues: ampTicks, formatter: (v: number) => v.toFixed(2), hideOverlap: false },
    });
    const midMonths = monthDays.map((d, k) => monthDays.slice(0, k).reduce((a, b) => a + b, 0) + d / 2);
    const monthEdges = monthDays.reduce((a, d) => [...a, a[a.length - 1] + d], [0]);
    const mAxis = (g: number) => ({
      type: "value", gridIndex: g, min: 0, max: 365,
      axisLine: { show: false }, splitLine: { show: false },
      axisTick: { show: true, length: 4, lineStyle: { color: "#444" }, customValues: midMonths },
      axisLabel: { ...labelStyle, margin: 6, customValues: midMonths, hideOverlap: false,
        formatter: (v: number) => months[midMonths.indexOf(v)] },
    });
    const hiddenY = (g: number) => ({ type: "value", gridIndex: g, min: 0, max: 1, show: false });
    const ampEdges = ampLevels.map((_, k) => k * 0.25).concat([5]);
    const profX = [-3.07, 3.1];
    const linesA = [[solidNorthA,false],[dashNorthA,true],[solidMidA,false],[dashEqA,true],[dashSouthA,true]];
    const linesB = [[solidNorthB,false],[dashNorthB,true],[solidMidB,false],[dashEqB,true],[dashSouthB,true]];
    const title = (text: string, x: number, y: number, size: number) => ({
      text, left: x, top: y, textAlign: "center", padding: 0,
      textStyle: { fontFamily: FONT, fontSize: size, fontWeight: "normal", color: "#222" },
    });
    chart.setOption({
      animation: false,
      textStyle: { fontFamily: FONT },
      title: [
        title("(a)", 56, 5, 19.3), title("mode = 4", 277, 9, 18.5),
        title("(b)", 658, 5, 19.3), title("mode = 4", 880, 9, 18.5),
        title("(c)", 56, 241, 19.3), title("(d)", 658, 241, 19.3),
        title("mode = 4", 1247, 97, 17.6),
      ],
      grid: grids,
      xAxis: [
        mapX(0), mapX(1), mapX(2), mapX(3),
        { type: "value", gridIndex: 4, min: profX[0], max: profX[1], axisLine: { show: false }, splitLine: { show: false },
          axisTick: { show: true, length: 3, lineStyle: { color: "#444" }, customValues: [-2.5, 0, 2.5] },
          axisLabel: { ...labelStyle, fontSize: 14, margin: 4, customValues: [-2.5, 0, 2.5], hideOverlap: false,
            formatter: (v: number) => (v < 0 ? "\u2212" + (-v).toFixed(1) : v.toFixed(1)) } },
        cbAxis(5, "Zonal velocity (cm/s)"), cbAxis(6, "Zonal velocity (cm/s)"), mAxis(7), mAxis(8),
      ],
      yAxis: [
        mapY(0, extAB), mapY(1, extAB), mapY(2, extCD), mapY(3, extCD),
        { type: "value", gridIndex: 4, min: 0, max: 500, interval: 100, inverse: true,
          name: "Depth [m]", nameLocation: "middle", nameGap: 40, nameRotate: 90,
          nameTextStyle: { fontFamily: FONT, fontSize: 14.5, color: "#222" },
          axisLine: { show: false }, splitLine: { show: false },
          axisTick: { show: true, length: 3, lineStyle: { color: "#444" } },
          axisLabel: { ...labelStyle, fontSize: 14, margin: 5 } },
        hiddenY(5), hiddenY(6), hiddenY(7), hiddenY(8),
      ],
      series: [
        ...mapPanel(0, ampShapes(ampA), extAB, linesA, 1.2),
        ...mapPanel(1, ampShapes(ampB), extAB, linesB, 1.2),
        ...mapPanel(2, phaseShapes(phaseNorthC, stripesC, phaseSouthC), extCD, linesA, 1.8),
        ...mapPanel(3, phaseShapes(phaseNorthD, stripesD, phaseSouthD), extCD, linesB, 1.8),
        linesSeries(4, [-2.5, 2.5], [100, 200, 300, 400], [profX[0], profX[1], 500, 0], "#d2d2d2"),
        { type: "line", xAxisIndex: 4, yAxisIndex: 4, data: [[0, 0], [0, 500]], showSymbol: false, silent: true,
          lineStyle: { color: "#333", width: 1.5 } },
        { type: "line", xAxisIndex: 4, yAxisIndex: 4, data: profileValue.map((v, k) => [v, profileDepth[k]]),
          showSymbol: false, silent: true, smooth: 0.2, lineStyle: { color: "#1f77b4", width: 4 } },
        barRects(5, ampEdges, ampLevels, null),
        barFrame(5, [[0, 0], [5, 0], [5, 1], [0, 1]]),
        barRects(6, ampEdges, ampLevels, null),
        {
          type: "custom", xAxisIndex: 6, yAxisIndex: 6, coordinateSystem: "cartesian2d", clip: false, silent: true,
          data: [[0]], encode: { x: -1, y: -1 },
          renderItem: (_: any, api: any) => ({
            type: "polygon", shape: { points: [[5, 0], [5.25, 0.5], [5, 1]].map((q) => api.coord(q)) },
            style: { fill: "#2e0a0f", stroke: "none" },
          }),
        },
        barFrame(6, [[0, 0], [5, 0], [5.25, 0.5], [5, 1], [0, 1]]),
        barRects(7, monthEdges, monthColors, "#333"),
        barFrame(7, [[0, 0], [365, 0], [365, 1], [0, 1]]),
        barRects(8, monthEdges, monthColors, "#333"),
        barFrame(8, [[0, 0], [365, 0], [365, 1], [0, 1]]),
      ],
    });
    return () => chart.dispose();
  }, []);
  return <div ref={ref} style={{ position: "fixed", left: 0, top: 0, width: 1304, height: 485, background: "#fff" }} />;
}
